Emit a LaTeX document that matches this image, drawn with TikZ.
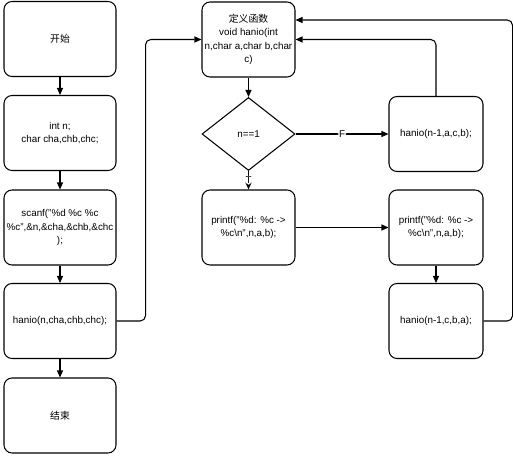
\documentclass[tikz,border=0pt]{standalone}
\usepackage{fontspec}
\setmainfont{Liberation Sans}
\newfontfamily\cjk{Noto Sans CJK SC}
\usetikzlibrary{shapes.geometric,arrows.meta}
\begin{document}
\begin{tikzpicture}[
        box/.style={draw, rectangle, rounded corners=0.16cm, line width=0.6pt, minimum width=#1, minimum height=1.5cm, inner sep=1pt, align=center, font=\fontsize{5.6}{7.6}\selectfont},
        box/.default=2.24cm,
        cond/.style={draw, diamond, aspect=1.27, line width=0.6pt, minimum width=1.86cm, minimum height=1.46cm, inner sep=0pt, font=\fontsize{5.6}{7.6}\selectfont},
        arr/.style={-{Triangle[length=1.4mm,width=1.2mm]}, line width=0.6pt, rounded corners=3pt},
        lbl/.style={fill=white, inner sep=0.6pt, font=\fontsize{5.6}{7.6}\selectfont}
    ]
        \useasboundingbox (0,0) rectangle (10.26,-9.1);
        % main
        \node[box] (start) at (1.2,-0.78) {\cjk 开始};
        \node[box] (decl) at (1.2,-2.66) {int n;\\char cha,chb,chc;};
        \node[box] (input) at (1.2,-4.55) {scanf("\%d \%c \%c\\\%c",\&n,\&cha,\&chb,\&chc\\);};
        \node[box] (call) at (1.2,-6.42) {hanio(n,cha,chb,chc);};
        \node[box] (stop) at (1.2,-8.31) {\cjk 结束};
        % hanio
        \node[box=1.86cm] (func) at (4.97,-0.79) {{\cjk 定义函数}\\void hanio(int\\n,char a,char b,char\\c)};
        \node[cond] (test) at (4.97,-2.68) {n==1};
        \node[box=1.86cm] (print1) at (4.97,-4.55) {printf("\%d: \%c ->\\\%c\textbackslash n",n,a,b);};
        \node[box=1.88cm] (rec1) at (8.72,-2.68) {hanio(n-1,a,c,b);};
        \node[box=1.88cm] (print2) at (8.72,-4.55) {printf("\%d: \%c ->\\\%c\textbackslash n",n,a,b);};
        \node[box=1.88cm] (rec2) at (8.72,-6.42) {hanio(n-1,c,b,a);};
        \draw[arr] (start) -- (decl);
        \draw[arr] (decl) -- (input);
        \draw[arr] (input) -- (call);
        \draw[arr] (call) -- (stop);
        \draw[arr] (call.east) -- ++(0.58,0) |- (func.west);
        \draw[arr] (func) -- (test);
        \draw[arr] (test) -- node[lbl] {F} (rec1);
        \draw[arr] (test) -- node[lbl] {T} (print1);
        \draw[arr] (print1) -- (print2);
        \draw[arr] (print2) -- (rec2);
        \draw[arr] (rec1.north) |- (func.east);
        \draw[arr] (rec2.east) -- ++(0.58,0) |- ([yshift=0.39cm]func.east);
    \end{tikzpicture}
\end{document}
